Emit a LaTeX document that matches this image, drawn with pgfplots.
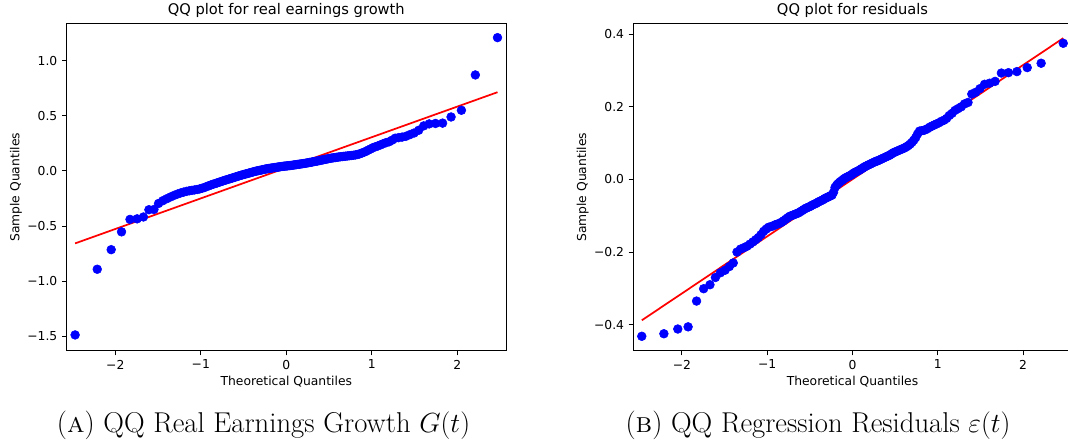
\documentclass[border=0pt]{standalone}
\usepackage{fontspec}
\usepackage{pgfplots}
\pgfplotsset{compat=1.18}
\newfontfamily\dejavu{DejaVu Sans}

% one px of the reference = 0.75pt
\pgfplotsset{
  qq/.style={
    scale only axis, anchor=south west,
    height=245.5pt,
    xmin=-2.573, xmax=2.573,
    axis line style={black, line width=0.75pt},
    tick align=outside, major tick length=3.2pt,
    every tick/.style={black, line width=0.75pt},
    xtick pos=bottom, ytick pos=left,
    xtick={-2,-1,0,1,2}, xticklabels={−2,−1,0,1,2},
    tick label style={font=\dejavu\fontsize{9.25}{11}\selectfont},
    every axis title shift=0pt,
    title style={font=\dejavu\fontsize{11}{13}\selectfont,
      at={(axis description cs:0.5,1.0266)}, anchor=base},
    xlabel style={font=\dejavu\fontsize{9.25}{11}\selectfont,
      at={(axis description cs:0.5,-0.1069)}, anchor=base},
    ylabel style={font=\dejavu\fontsize{9.25}{11}\selectfont,
      at={(axis description cs:-0.1068,0.5)}, anchor=base},
    xlabel={Theoretical Quantiles}, ylabel={Sample Quantiles},
  },
  pts/.style={only marks, mark=*, mark size=3.3pt, blue, mark options={fill=blue, draw=blue}},
  fit/.style={red, line width=1.3pt, no marks},
}

\pgfplotstableread{
x y
-2.470 -1.490
-2.211 -0.893
-2.048 -0.715
-1.927 -0.553
-1.828 -0.440
-1.745 -0.435
-1.671 -0.418
-1.607 -0.352
-1.548 -0.350
-1.494 -0.295
-1.444 -0.270
-1.398 -0.252
-1.354 -0.236
-1.313 -0.222
-1.274 -0.210
-1.237 -0.200
-1.201 -0.192
-1.167 -0.185
-1.134 -0.180
-1.103 -0.176
-1.072 -0.172
-1.042 -0.168
-1.013 -0.163
-0.986 -0.157
-0.958 -0.150
-0.932 -0.142
-0.906 -0.134
-0.881 -0.127
-0.856 -0.120
-0.832 -0.114
-0.808 -0.108
-0.785 -0.102
-0.762 -0.096
-0.740 -0.090
-0.718 -0.085
-0.696 -0.079
-0.674 -0.074
-0.653 -0.069
-0.632 -0.064
-0.612 -0.059
-0.592 -0.054
-0.572 -0.049
-0.552 -0.044
-0.533 -0.040
-0.513 -0.035
-0.494 -0.031
-0.475 -0.027
-0.456 -0.023
-0.437 -0.019
-0.419 -0.015
-0.400 -0.011
-0.382 -0.007
-0.364 -0.003
-0.346 0.000
-0.328 0.003
-0.310 0.006
-0.292 0.009
-0.275 0.012
-0.257 0.015
-0.240 0.018
-0.222 0.021
-0.205 0.023
-0.187 0.025
-0.170 0.027
-0.153 0.029
-0.136 0.031
-0.119 0.033
-0.102 0.035
-0.085 0.037
-0.068 0.039
-0.051 0.041
-0.034 0.043
-0.017 0.044
0.000 0.046
0.017 0.047
0.034 0.049
0.051 0.050
0.068 0.052
0.085 0.054
0.102 0.056
0.119 0.058
0.136 0.060
0.153 0.062
0.170 0.064
0.187 0.066
0.205 0.068
0.222 0.070
0.240 0.073
0.257 0.075
0.275 0.078
0.292 0.080
0.310 0.083
0.328 0.086
0.346 0.088
0.364 0.091
0.382 0.094
0.400 0.097
0.419 0.100
0.437 0.103
0.456 0.106
0.475 0.109
0.494 0.112
0.513 0.115
0.533 0.118
0.552 0.120
0.572 0.122
0.592 0.125
0.612 0.127
0.632 0.129
0.653 0.131
0.674 0.133
0.696 0.135
0.718 0.137
0.740 0.139
0.762 0.141
0.785 0.143
0.808 0.146
0.832 0.150
0.856 0.155
0.881 0.162
0.906 0.170
0.932 0.178
0.958 0.190
0.986 0.200
1.013 0.212
1.042 0.220
1.072 0.228
1.103 0.238
1.134 0.248
1.167 0.258
1.201 0.265
1.237 0.280
1.274 0.298
1.313 0.303
1.354 0.308
1.398 0.315
1.444 0.330
1.494 0.345
1.548 0.370
1.607 0.410
1.671 0.428
1.745 0.432
1.828 0.435
1.927 0.491
2.048 0.552
2.211 0.873
2.470 1.212
}\growth

\pgfplotstableread{
x y
-2.470 -0.432
-2.211 -0.425
-2.048 -0.412
-1.927 -0.406
-1.828 -0.335
-1.745 -0.301
-1.671 -0.290
-1.607 -0.270
-1.548 -0.257
-1.494 -0.250
-1.444 -0.240
-1.398 -0.230
-1.354 -0.200
-1.313 -0.192
-1.274 -0.188
-1.237 -0.184
-1.201 -0.178
-1.167 -0.172
-1.134 -0.166
-1.103 -0.160
-1.072 -0.152
-1.042 -0.143
-1.013 -0.137
-0.986 -0.132
-0.958 -0.130
-0.932 -0.128
-0.906 -0.125
-0.881 -0.123
-0.856 -0.121
-0.832 -0.118
-0.808 -0.114
-0.785 -0.110
-0.762 -0.106
-0.740 -0.102
-0.718 -0.100
-0.696 -0.098
-0.674 -0.096
-0.653 -0.094
-0.632 -0.092
-0.612 -0.089
-0.592 -0.086
-0.572 -0.083
-0.552 -0.080
-0.533 -0.078
-0.513 -0.076
-0.494 -0.074
-0.475 -0.071
-0.456 -0.069
-0.437 -0.067
-0.419 -0.065
-0.400 -0.062
-0.382 -0.060
-0.364 -0.058
-0.346 -0.056
-0.328 -0.053
-0.310 -0.051
-0.292 -0.049
-0.275 -0.047
-0.257 -0.045
-0.240 -0.043
-0.222 -0.035
-0.205 -0.022
-0.187 -0.016
-0.170 -0.012
-0.153 -0.008
-0.136 -0.005
-0.119 -0.002
-0.102 0.001
-0.085 0.004
-0.068 0.006
-0.051 0.008
-0.034 0.010
-0.017 0.012
0.000 0.015
0.017 0.018
0.034 0.020
0.051 0.022
0.068 0.024
0.085 0.026
0.102 0.029
0.119 0.031
0.136 0.034
0.153 0.036
0.170 0.038
0.187 0.040
0.205 0.042
0.222 0.044
0.240 0.046
0.257 0.048
0.275 0.050
0.292 0.051
0.310 0.053
0.328 0.055
0.346 0.057
0.364 0.059
0.382 0.061
0.400 0.063
0.419 0.065
0.437 0.067
0.456 0.070
0.475 0.073
0.494 0.075
0.513 0.077
0.533 0.079
0.552 0.081
0.572 0.083
0.592 0.085
0.612 0.087
0.632 0.090
0.653 0.093
0.674 0.097
0.696 0.102
0.718 0.108
0.740 0.115
0.762 0.125
0.785 0.133
0.808 0.134
0.832 0.135
0.856 0.137
0.881 0.140
0.906 0.144
0.932 0.147
0.958 0.150
0.986 0.153
1.013 0.156
1.042 0.160
1.072 0.163
1.103 0.168
1.134 0.176
1.167 0.182
1.201 0.190
1.237 0.195
1.274 0.200
1.313 0.208
1.354 0.212
1.398 0.235
1.444 0.240
1.494 0.250
1.548 0.262
1.607 0.265
1.671 0.270
1.745 0.293
1.828 0.294
1.927 0.297
2.048 0.308
2.211 0.320
2.470 0.375
}\resid

\begin{document}
\begin{tikzpicture}

\begin{axis}[qq, at={(49.725pt,68.25pt)}, width=330pt,
  ymin=-1.636, ymax=1.339,
  ytick={-1.5,-1,-0.5,0,0.5,1},
  yticklabels={−1.5,−1.0,−0.5,0.0,0.5,1.0},
  title={QQ plot for real earnings growth}]
\addplot[pts] table {\growth};
\addplot[fit] coordinates {(-2.47,-0.658) (2.47,0.716)};
\end{axis}

\begin{axis}[qq, at={(474.75pt,68.25pt)}, width=329.25pt,
  ymin=-0.4725, ymax=0.429,
  ytick={-0.4,-0.2,0,0.2,0.4},
  yticklabels={−0.4,−0.2,0.0,0.2,0.4},
  title={QQ plot for residuals}]
\addplot[pts] table {\resid};
\addplot[fit] coordinates {(-2.47,-0.388) (2.47,0.389)};
\end{axis}

\node[anchor=base, font=\fontsize{21.5}{24}\selectfont] at (197.6pt,6.75pt)
  {(\textsc{a}) QQ Real Earnings Growth $G(t)$};
\node[anchor=base, font=\fontsize{21.5}{24}\selectfont] at (613.5pt,6.75pt)
  {(\textsc{b}) QQ Regression Residuals $\varepsilon(t)$};

\pgfresetboundingbox
\path[use as bounding box] (0,0) rectangle (801pt,331.5pt);
\end{tikzpicture}
\end{document}
